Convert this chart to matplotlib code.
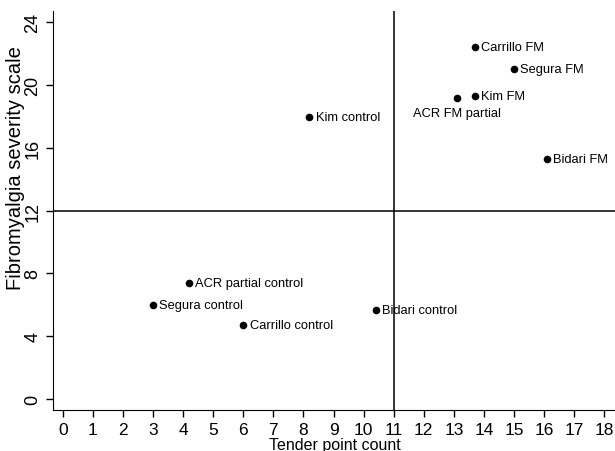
import matplotlib.pyplot as plt

plt.rcParams['font.family'] = ['Liberation Sans', 'DejaVu Sans']

names = ["Kim control", "Carrillo FM", "Segura FM", "Kim FM", "ACR FM partial",
         "Bidari FM", "ACR partial control", "Segura control", "Carrillo control",
         "Bidari control"]
tender = [8.2, 13.7, 15.0, 13.7, 13.1, 16.1, 4.2, 3.0, 6.0, 10.4]
fss = [17.95, 22.4, 21.0, 19.3, 19.15, 15.25, 7.4, 6.0, 4.7, 5.65]
xticks = list(range(0, 19))
yticks = [0, 4, 8, 12, 16, 20, 24]

fig = plt.figure(figsize=(6.15, 4.52), dpi=100)
ax = fig.add_axes([53/615, 1-411/452, 1-53/615, (411-12)/452])

ax.scatter(tender, fss, s=20, color='black', zorder=3)
for n, x, y in zip(names, tender, fss):
    if n == "ACR FM partial":
        ax.annotate(n, (x, y), xytext=(0, -6), textcoords='offset points',
                    ha='center', va='top', fontsize=9.3)
    else:
        ax.annotate(n, (x, y), xytext=(4.5, 0), textcoords='offset points',
                    ha='left', va='center', fontsize=9.3)

ax.axvline(11, color='black', lw=1.1, zorder=1)
ax.axhline(12, color='black', lw=1.1, zorder=1)

ax.set_xlim(-0.33, 18.36)
ax.set_ylim(-0.7, 24.7)
ax.set_xticks(xticks)
ax.set_yticks(yticks)
ax.tick_params(axis='both', length=5, width=1)
ax.tick_params(axis='x', labelsize=12.5)
ax.tick_params(axis='y', labelsize=13)
for lbl in ax.get_yticklabels():
    lbl.set_rotation(90)
    lbl.set_va('center')
ax.spines['top'].set_visible(False)
ax.spines['right'].set_visible(False)
ax.set_xlabel("Tender point count", fontsize=11.5)
ax.xaxis.set_label_coords(0.502, -0.068)
ax.set_ylabel("Fibromyalgia severity scale", fontsize=14.5)
ax.yaxis.set_label_coords(-0.049, 0.61)

fig.savefig("out.png", dpi=100)
